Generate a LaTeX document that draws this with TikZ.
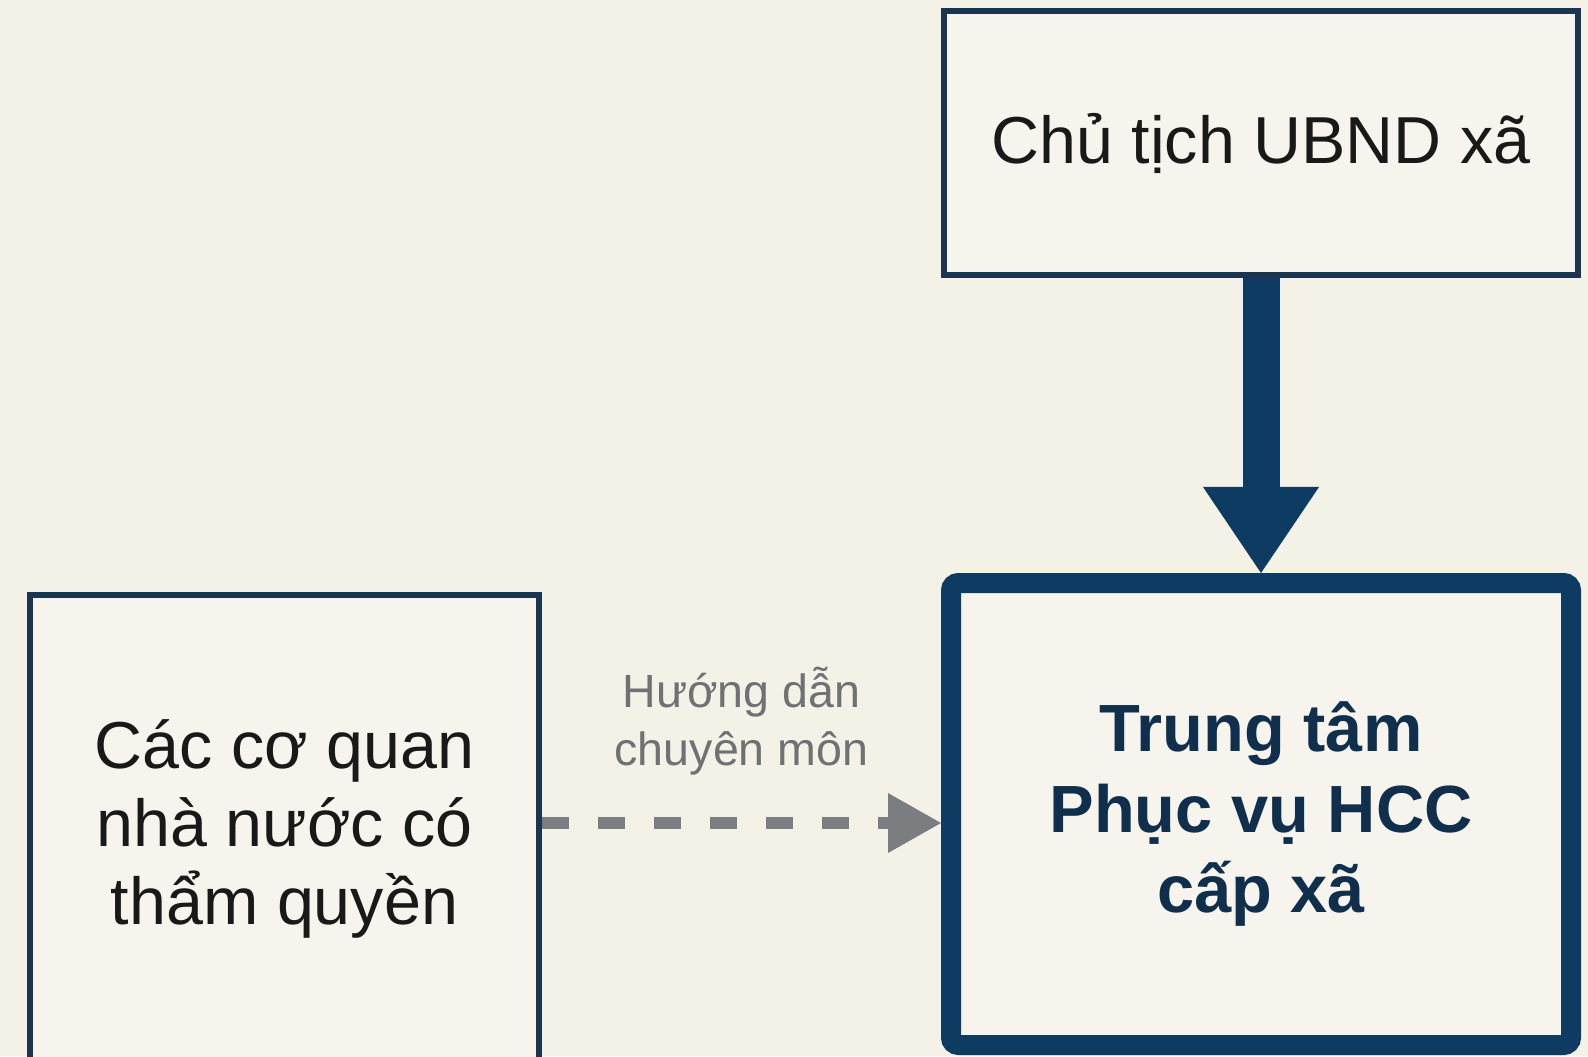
\documentclass[tikz,border=0pt]{standalone}
\usepackage{fontspec}
\setmainfont{Liberation Sans}
\usetikzlibrary{arrows.meta}
\definecolor{bgcream}{HTML}{F4F1E7}
\definecolor{boxfill}{HTML}{F6F4EC}
\definecolor{navy}{HTML}{0D3B62}
\definecolor{darkline}{HTML}{1B3550}
\definecolor{guidegray}{HTML}{7B7E81}
\definecolor{labelgray}{HTML}{6F7174}
\definecolor{textnavy}{HTML}{0F2F4C}

\begin{document}
\begin{tikzpicture}[
  plainbox/.style={draw=darkline, line width=0.12cm, fill=boxfill, inner sep=0pt, align=center,
    font=\fontsize{37.8pt}{44.5pt}\selectfont, text=black!90},
  centrebox/.style={draw=navy, line width=0.4cm, rounded corners=0.15cm, fill=boxfill, inner sep=0pt,
    align=center, font=\fontsize{38pt}{46pt}\selectfont\bfseries, text=textnavy},
  labeltext/.style={font=\fontsize{26.5pt}{33pt}\selectfont, text=labelgray, align=center, inner sep=0pt},
  bigarrow/.style={navy, line width=0.74cm, -{Triangle[length=1.72cm, width=2.32cm, line width=0pt]}},
  guidearrow/.style={guidegray, line width=0.24cm, dash pattern=on 0.54cm off 0.58cm,
    -{Triangle[length=1.06cm, width=1.2cm, line width=0pt]}}]
  % background and frame
  \path[use as bounding box, fill=bgcream] (0,0) rectangle (31.76,21.12);
  \clip (0,0) rectangle (31.76,21.12);
  % boxes
  \node[plainbox, minimum width=12.68cm, minimum height=5.28cm] (chutich) at (25.22,18.26) {Chủ tịch UBND xã};
  \node[centrebox, minimum width=12.4cm, minimum height=9.24cm] (trungtam) at (25.22,4.84)
    {Trung tâm\\Phục vụ HCC\\cấp xã};
  \node[plainbox, minimum width=10.18cm, minimum height=9.36cm] (cacco) at (5.69,4.54)
    {Các cơ quan\\nhà nước có\\thẩm quyền};
  % connectors
  \draw[bigarrow] (chutich.south) -- (trungtam.north);
  \coordinate (guideend) at ([yshift=-0.18cm]trungtam.west);
  \draw[guidearrow] (cacco.east |- guideend) -- node[labeltext, above=0.84cm] (huongdan) {Hướng dẫn\\chuyên môn} (guideend);
\end{tikzpicture}
\end{document}
